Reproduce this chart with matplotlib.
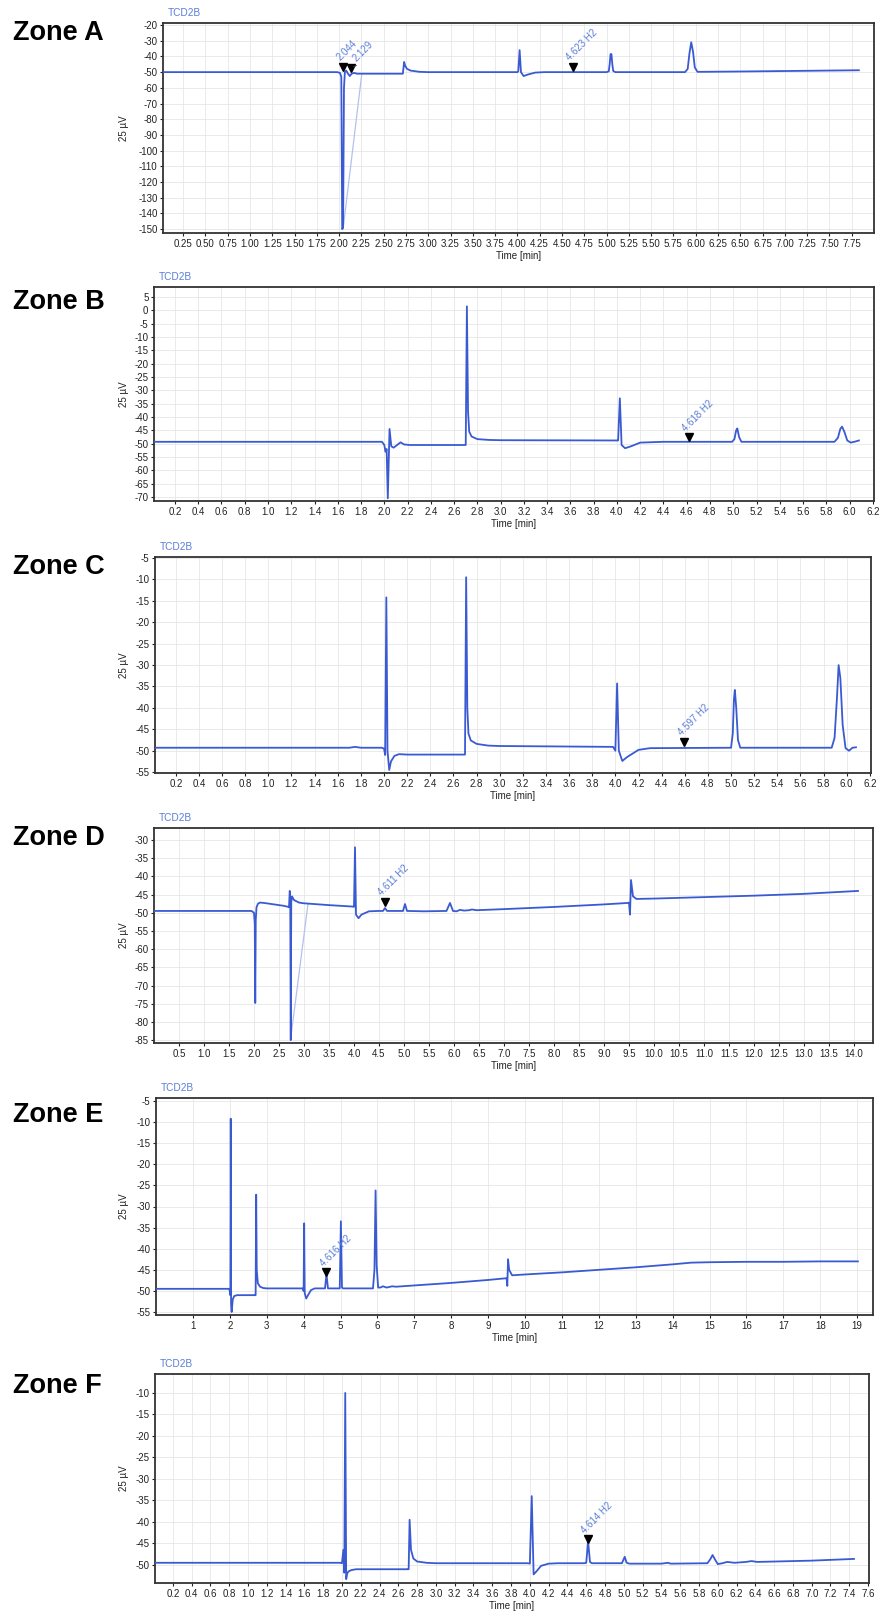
import numpy as np
import matplotlib
matplotlib.use("Agg")
import matplotlib.pyplot as plt
from matplotlib.ticker import FormatStrFormatter

plt.rcParams['font.family'] = ['Liberation Sans', 'DejaVu Sans']
plt.rcParams['axes.unicode_minus'] = False

# chromatogram traces (time in min, signal in 25 uV)
a_time = [0.0, 1.98, 2.01, 2.025, 2.035, 2.045, 2.055, 2.065, 2.08, 2.10, 2.12, 2.14, 2.17, 2.20,
          2.70, 2.715, 2.73, 2.74, 2.76, 2.80, 2.90, 3.00, 4.00, 4.01, 4.025, 4.04, 4.07, 4.12, 4.20, 4.30,
          5.00, 5.025, 5.035, 5.045, 5.055, 5.065, 5.075, 5.10,
          5.88, 5.91, 5.93, 5.95, 5.97, 5.99, 6.02, 6.10, 6.50, 7.00, 7.50, 7.83]
a_signal = [-50, -50, -50.5, -53, -150, -149, -60, -50, -49, -51, -52.5, -51, -50.5, -51,
            -51, -51, -43.5, -45.8, -47.8, -49, -49.8, -50, -50, -49.5, -36, -50, -52.5, -51.5, -50.3, -50,
            -50, -49.5, -45, -38.5, -38.5, -45, -49.3, -50,
            -50, -48, -38, -31, -37, -47, -49.8, -49.8, -49.6, -49.3, -49.0, -48.8]

b_time = [0.0, 1.98, 2.00, 2.01, 2.02, 2.03, 2.045, 2.06, 2.08, 2.11, 2.14, 2.17, 2.22,
          2.70, 2.71, 2.72, 2.73, 2.75, 2.80, 2.90, 3.0, 4.0, 4.01, 4.025, 4.04, 4.07, 4.12, 4.2, 4.4,
          4.99, 5.01, 5.025, 5.035, 5.05, 5.07,
          5.87, 5.90, 5.92, 5.935, 5.955, 5.98, 6.01, 6.05, 6.08]
b_signal = [-49.3, -49.3, -50.5, -53, -52, -70.5, -44.5, -51, -51.5, -50.5, -49.5, -50.3, -50.5,
            -50.5, 1.5, -38, -45.5, -47.3, -48.3, -48.6, -48.7, -48.8, -48.8, -33, -50.5, -51.7, -51, -49.6, -49.3,
            -49.3, -48.3, -45, -44.3, -47.5, -49.3,
            -49.3, -47.8, -44.5, -43.6, -45.5, -48.8, -49.6, -49.2, -48.8]

c_time = [0.0, 1.7, 1.75, 1.8, 1.98, 2.00, 2.01, 2.02, 2.03, 2.045, 2.06, 2.09, 2.13, 2.2,
          2.70, 2.71, 2.72, 2.73, 2.75, 2.80, 2.9, 3.0, 3.5, 3.98, 4.00, 4.015, 4.03, 4.06, 4.10, 4.2, 4.3,
          5.0, 5.015, 5.025, 5.033, 5.045, 5.06, 5.08, 5.5,
          5.87, 5.895, 5.915, 5.93, 5.945, 5.965, 5.99, 6.02, 6.05, 6.08]
c_signal = [-49.3, -49.3, -49.1, -49.3, -49.3, -49.5, -51, -14.2, -50, -54.5, -52.5, -51.2, -50.8, -50.9,
            -50.9, -9.5, -40, -46, -47.6, -48.4, -48.8, -48.9, -49.0, -49.1, -50, -34.3, -50, -52.4, -51.5, -49.8, -49.4,
            -49.3, -46, -38, -35.8, -40, -47.5, -49.3, -49.3,
            -49.3, -47, -38, -30, -33, -44, -49.4, -50, -49.3, -49.2]

d_time = [0.0, 1.95, 2.0, 2.015, 2.025, 2.035, 2.05, 2.08, 2.12, 2.2, 2.4, 2.6, 2.69,
          2.70, 2.715, 2.725, 2.735, 2.745, 2.76, 2.8, 2.9, 3.0, 3.5, 3.98,
          4.0, 4.02, 4.04, 4.09, 4.15, 4.3, 4.5, 4.58, 4.62, 4.66, 4.98, 5.02, 5.06, 5.4,
          5.85, 5.92, 5.98, 6.05, 6.12, 6.2, 6.3, 6.36, 6.45, 7.0, 8.0, 9.0, 9.48,
          9.50, 9.52, 9.54, 9.58, 9.65, 10.0, 11.0, 12.0, 13.0, 14.08]
d_signal = [-49.5, -49.5, -50, -53, -74.8, -52, -48.5, -47.5, -47.2, -47.3, -47.7, -48.1, -48.4,
            -48.5, -44, -46, -85, -47, -45.5, -46.5, -47.2, -47.4, -47.9, -48.3,
            -48.4, -32, -50.5, -51.5, -50.5, -49.6, -49.5, -49.5, -48.7, -49.5, -49.5, -47.6, -49.5, -49.6,
            -49.5, -47.3, -49.5, -49.6, -49.2, -49.4, -49.3, -49.1, -49.3, -49.0, -48.4, -47.7, -47.3,
            -47.2, -50.5, -41, -45.5, -46.2, -46.1, -45.7, -45.3, -44.8, -44.0]

e_time = [0.0, 1.98, 2.00, 2.015, 2.025, 2.035, 2.05, 2.08, 2.12, 2.2,
          2.69, 2.70, 2.715, 2.73, 2.76, 2.82, 2.9, 3.0, 3.98, 4.0, 4.015, 4.03, 4.07, 4.12, 4.2, 4.3,
          4.58, 4.62, 4.66, 4.98, 5.01, 5.04, 5.07, 5.88, 5.92, 5.95, 5.98, 6.02, 6.08, 6.15, 6.25, 6.4,
          6.5, 7.0, 8.0, 9.0, 9.48, 9.50, 9.52, 9.54, 9.57, 9.65, 10.0, 11.0, 12.0, 13.0, 14.0, 14.5,
          15.0, 16.0, 17.0, 18.0, 19.02]
e_signal = [-49.5, -49.5, -50, -51, -9.2, -53, -55, -52, -51.2, -51,
            -51, -51, -27.2, -45, -48.2, -49, -49.3, -49.4, -49.4, -50, -34, -50.5, -51.8, -51, -49.8, -49.4,
            -49.4, -46, -49.4, -49.4, -33.5, -49.2, -49.4, -49.4, -45, -26.2, -44, -49.2, -49.2, -48.9, -49.2, -48.9,
            -49.0, -48.7, -48.1, -47.4, -47.0, -47.0, -48.8, -42.5, -45, -46.3, -46.1, -45.6, -45.0, -44.4, -43.7, -43.3,
            -43.2, -43.1, -43.1, -43.0, -43.0]

f_time = [0.0, 1.98, 2.00, 2.015, 2.025, 2.035, 2.045, 2.055, 2.07, 2.1, 2.15, 2.2,
          2.7, 2.71, 2.72, 2.735, 2.76, 2.8, 2.9, 3.0, 3.98, 4.0, 4.02, 4.04, 4.07, 4.12, 4.2, 4.3,
          4.58, 4.60, 4.62, 4.64, 4.66, 4.98, 5.01, 5.03, 5.06, 5.4, 5.47, 5.5,
          5.89, 5.92, 5.945, 5.97, 6.0, 6.05, 6.1, 6.18, 6.3, 6.36, 6.42, 7.0, 7.45]
f_signal = [-49.5, -49.5, -49.6, -46.5, -51.8, -10, -53.3, -52, -51.5, -51.2, -51, -51,
            -51, -51, -39.5, -46.5, -48.5, -49.2, -49.5, -49.6, -49.6, -49.7, -34, -52.2, -51.5, -50.2, -49.7, -49.6,
            -49.6, -49.5, -44.5, -49.3, -49.6, -49.6, -48.1, -49.5, -49.7, -49.7, -49.5, -49.7,
            -49.6, -48.7, -47.7, -48.7, -49.8, -49.6, -49.3, -49.5, -49.3, -49.1, -49.3, -49.0, -48.6]

# labelled peaks: (marker time, marker signal, label)
a_peaks = [(2.044, -46.5, "2.044"), (2.129, -47.3, "2.129"), (4.623, -46.7, "4.623 H2")]
b_peaks = [(4.618, -47.6, "4.618 H2")]
c_peaks = [(4.597, -47.9, "4.597 H2")]
d_peaks = [(4.611, -47.0, "4.611 H2")]
e_peaks = [(4.616, -45.6, "4.616 H2")]
f_peaks = [(4.614, -44.0, "4.614 H2")]

# faint integration baselines
a_baselines = [((2.045, 2.255), (-150, -51))]
d_baselines = [((2.73, 3.08), (-85, -47.5))]

W, H = 881, 1612
LINE = '#3a5ad2'
LABEL = '#5a7ed8'
FAINT = '#b3c1ee'


def draw_zone(fig, name, box, name_y, time, signal, xlim, ylim, xticks, yticks, fmt,
              peaks, baselines=(), shift=None):
    l, t, r, b = box
    ax = fig.add_axes([l / W, 1 - b / H, (r - l) / W, (b - t) / H])
    for xs, ys in baselines:
        ax.plot(xs, ys, color=FAINT, lw=0.9, zorder=2)
    ax.plot(time, signal, color=LINE, lw=1.3, zorder=3)
    for i, (pt, ps, txt) in enumerate(peaks):
        ax.plot([pt], [ps], marker='v', color='black', ms=5.5, zorder=4)
        dx = shift[i] if shift else 0
        if dx:
            ax.annotate('', (pt, ps), xytext=(dx, 2.5), textcoords='offset points',
                        arrowprops=dict(arrowstyle='-', color='#333333', lw=0.7), zorder=4)
        ax.annotate(txt, (pt, ps), xytext=(-1 + dx, 3), textcoords='offset points',
                    rotation=45, rotation_mode='anchor', ha='left', va='bottom',
                    color=LABEL, fontsize=7, zorder=5)
    ax.set_xlim(*xlim)
    ax.set_ylim(*ylim)
    ax.set_xticks(xticks)
    ax.set_yticks(yticks)
    ax.xaxis.set_major_formatter(FormatStrFormatter(fmt))
    ax.grid(True, color='#e6e6e6', lw=0.6, zorder=0)
    ax.set_axisbelow(True)
    ax.tick_params(labelsize=7, length=2.5, width=0.8, pad=1.5, colors='#222222')
    for s in ax.spines.values():
        s.set_color('#333333')
        s.set_linewidth(1.3)
    ax.set_xlabel('Time [min]', fontsize=7, labelpad=2, color='#222222')
    fig.text(124 / W, 1 - (t + b) / 2 / H, '25 µV', rotation=90, ha='center', va='center',
             fontsize=7, color='#222222')
    fig.text((l + 5) / W, 1 - (t - 10) / H, 'TCD2B', color=LABEL, fontsize=7.3, va='center')
    fig.text(13 / W, 1 - name_y / H, name, fontsize=19.5, fontweight='bold', va='center')
    return ax


fig = plt.figure(figsize=(W / 100, H / 100), dpi=100)
fig.patch.set_facecolor('white')

draw_zone(fig, 'Zone A', (163, 23, 874, 233), 33, a_time, a_signal, (0.025, 8.0), (-152.5, -18.7),
          np.arange(0.25, 7.76, 0.25), np.arange(-150, -19, 10), '%.2f', a_peaks, a_baselines,
          shift=[0, 6, 0])
draw_zone(fig, 'Zone B', (154, 287, 874, 501), 302, b_time, b_signal, (0.02, 6.21), (-71.5, 8.75),
          np.arange(0.2, 6.21, 0.2), np.arange(-70, 6, 5), '%.1f', b_peaks)
draw_zone(fig, 'Zone C', (155, 557, 871, 773), 567, c_time, c_signal, (0.02, 6.21), (-55.2, -4.77),
          np.arange(0.2, 6.21, 0.2), np.arange(-55, -4, 5), '%.1f', c_peaks)
draw_zone(fig, 'Zone D', (154, 828, 873, 1043), 838, d_time, d_signal, (0.0, 14.38), (-85.8, -26.7),
          np.arange(0.5, 14.01, 0.5), np.arange(-85, -29, 5), '%.1f', d_peaks, d_baselines)
draw_zone(fig, 'Zone E', (156, 1098, 873, 1315), 1115, e_time, e_signal, (0.0, 19.43), (-55.7, -4.3),
          np.arange(1, 20, 1), np.arange(-55, -4, 5), '%d', e_peaks)
draw_zone(fig, 'Zone F', (155, 1374, 869, 1583), 1386, f_time, f_signal, (0.01, 7.61), (-54.2, -5.6),
          np.arange(0.2, 7.61, 0.2), np.arange(-50, -9, 5), '%.1f', f_peaks)

plt.savefig('out.png', dpi=100)
